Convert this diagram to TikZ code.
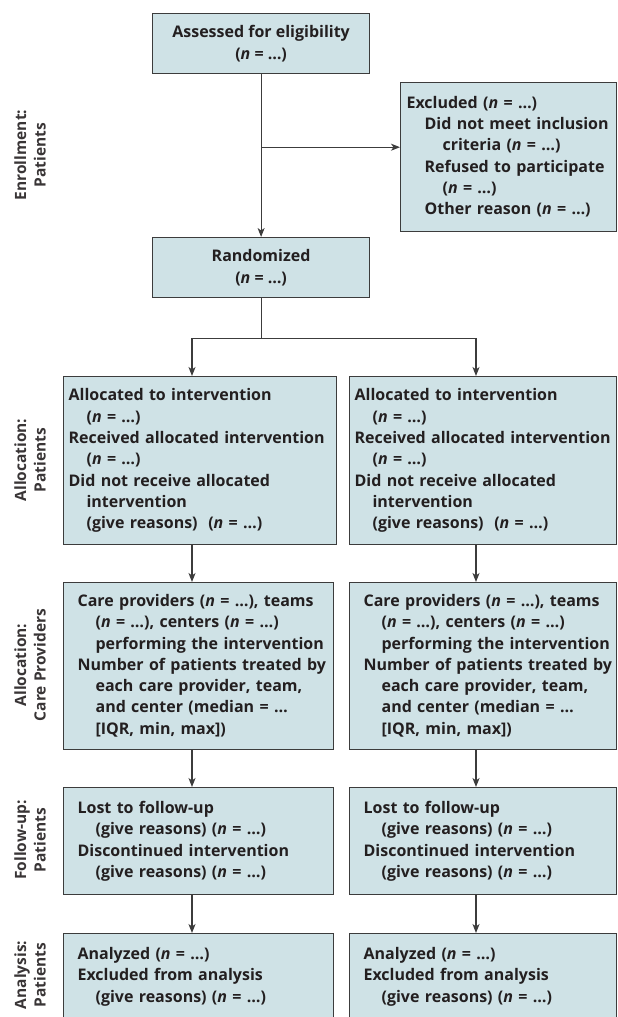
\documentclass[tikz,border=0pt]{standalone}
\usepackage{fontspec}
\setmainfont{Open Sans}
\usepackage{tikz}
\usetikzlibrary{arrows.meta,positioning}
\usepackage{xcolor}
\definecolor{cpgray}{RGB}{60,60,60}
\definecolor{cpfill}{RGB}{207,226,230}
\definecolor{cptext}{RGB}{35,31,32}
\newcommand{\boxfont}{\fontsize{16}{21.3}\selectfont\bfseries}
\newcommand{\labelfont}{\fontsize{15.5}{19.5}\selectfont\bfseries}
\newcommand{\hind}{\hspace*{18pt}}
\newcommand{\ncount}{(\textit{n} = …)}
\tikzstyle{arrow} = [line width=1.2pt,->,>={Stealth[length=9pt,width=7pt,inset=2.5pt]},color=cpgray]
\tikzstyle{stagebox} = [rectangle, anchor=north west, draw=cpgray, fill=cpfill, line width=1.2pt, text=cptext, font=\boxfont, inner ysep=0pt]
\tikzstyle{listbox} = [stagebox, align=left]
\tikzstyle{sidelabel} = [rotate=90, align=center, text=cptext!90, font=\labelfont]

\begin{document}
\begin{tikzpicture}[x=1pt,y=-1pt]
\useasboundingbox (0,0) rectangle (618,1017);
% Enrollment
\node (assess) [stagebox, minimum width=217pt, minimum height=60pt, align=center] at (152,13) {Assessed for eligibility\\ \ncount};
\node (excl) [listbox, text width=204pt, inner xsep=6pt, minimum height=149pt] at (400,82) {
\begin{tabular}{@{}l@{}}
Excluded \ncount\\
\hind Did not meet inclusion\\
\hind\hind criteria \ncount\\
\hind Refused to participate\\
\hind\hind\ncount\\
\hind Other reason \ncount
\end{tabular}
};
\node (rand) [stagebox, minimum width=217pt, minimum height=60pt, align=center] at (152,237) {Randomized\\ \ncount};

% Allocation: patients
\node (allocL) [listbox, text width=263pt, inner xsep=5pt, minimum height=168pt] at (63,376) {
\begin{tabular}{@{}l@{}}
Allocated to intervention\\
\hind\ncount\\
Received allocated intervention\\
\hind\ncount\\
Did not receive allocated\\
\hind intervention\\
\hind (give reasons)\ \ \ncount
\end{tabular}
};
\node (allocR) [listbox, text width=257pt, inner xsep=5pt, minimum height=168pt] at (349,376) {
\begin{tabular}{@{}l@{}}
Allocated to intervention\\
\hind\ncount\\
Received allocated intervention\\
\hind\ncount\\
Did not receive allocated\\
\hind intervention\\
\hind (give reasons)\ \ \ncount
\end{tabular}
};

% Allocation: care providers
\node (careL) [listbox, text width=242pt, inner xsep=14pt, minimum height=167pt] at (63,582) {
\begin{tabular}{@{}l@{}}
Care providers \ncount, teams\\
\hind\ncount, centers \ncount\\
\hind performing the intervention\\
Number of patients treated by\\
\hind each care provider, team,\\
\hind and center (median = …\\
\hind [IQR, min, max])
\end{tabular}
};
\node (careR) [listbox, text width=239pt, inner xsep=14pt, minimum height=167pt] at (349,582) {
\begin{tabular}{@{}l@{}}
Care providers \ncount, teams\\
\hind\ncount, centers \ncount\\
\hind performing the intervention\\
Number of patients treated by\\
\hind each care provider, team,\\
\hind and center (median = …\\
\hind [IQR, min, max])
\end{tabular}
};

% Follow-up
\node (followL) [listbox, text width=242pt, inner xsep=14pt, minimum height=107pt] at (63,787) {
\begin{tabular}{@{}l@{}}
Lost to follow-up\\
\hind (give reasons) \ncount\\
Discontinued intervention\\
\hind (give reasons) \ncount
\end{tabular}
};
\node (followR) [listbox, text width=239pt, inner xsep=14pt, minimum height=107pt] at (349,787) {
\begin{tabular}{@{}l@{}}
Lost to follow-up\\
\hind (give reasons) \ncount\\
Discontinued intervention\\
\hind (give reasons) \ncount
\end{tabular}
};

% Analysis
\node (anaL) [listbox, text width=242pt, inner xsep=14pt, minimum height=86pt] at (63,933) {
\begin{tabular}{@{}l@{}}
Analyzed \ncount\\
Excluded from analysis\\
\hind (give reasons) \ncount
\end{tabular}
};
\node (anaR) [listbox, text width=239pt, inner xsep=14pt, minimum height=86pt] at (349,933) {
\begin{tabular}{@{}l@{}}
Analyzed \ncount\\
Excluded from analysis\\
\hind (give reasons) \ncount
\end{tabular}
};

% Stage labels
\node (lblenroll) [sidelabel] at (30,155) {Enrollment:\\Patients};
\node (lblalloc) [sidelabel] at (30,460) {Allocation:\\Patients};
\node (lblcare) [sidelabel] at (30,665) {Allocation:\\Care Providers};
\node (lblfollow) [sidelabel] at (30,840) {Follow-up:\\Patients};
\node (lblana) [sidelabel] at (30,975) {Analysis:\\Patients};

% Connections
\coordinate (colL) at (192,0);
\coordinate (colR) at (476,0);
\path (assess.south) ++(0,73) coordinate (split);
\path (rand.south) ++(0,40) coordinate (fork);
\draw[arrow] (assess.south) -- (rand.north);
\draw[arrow] (split) -- (split -| excl.west);
\draw[line width=1.2pt,color=cpgray] (rand.south) -- (fork);
\draw[arrow] (fork) -| (colL |- allocL.north);
\draw[arrow] (fork) -| (colR |- allocR.north);
\draw[arrow] (colL |- allocL.south) -- (colL |- careL.north);
\draw[arrow] (colR |- allocR.south) -- (colR |- careR.north);
\draw[arrow] (colL |- careL.south) -- (colL |- followL.north);
\draw[arrow] (colR |- careR.south) -- (colR |- followR.north);
\draw[arrow] (colL |- followL.south) -- (colL |- anaL.north);
\draw[arrow] (colR |- followR.south) -- (colR |- anaR.north);
\end{tikzpicture}
\end{document}
